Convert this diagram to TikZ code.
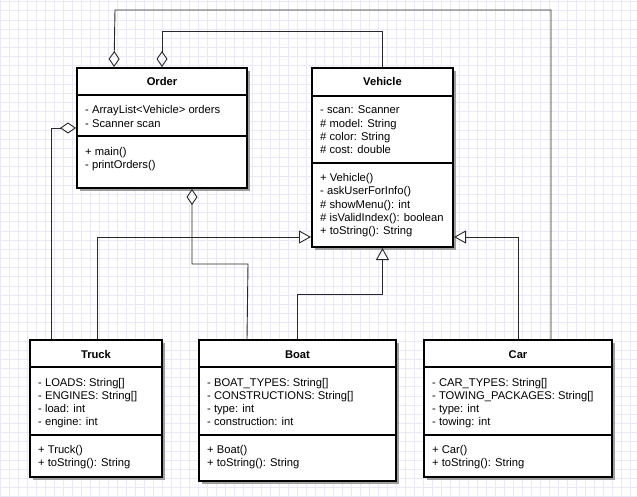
\documentclass[tikz,border=0pt]{standalone}
\usepackage{fontspec}
\setmainfont{Liberation Sans}
\usetikzlibrary{arrows.meta,calc,shadows}
\definecolor{gridc}{RGB}{232,232,249}
\definecolor{linec}{RGB}{40,40,40}
\begin{document}
\begin{tikzpicture}[x=1pt,y=-1pt,
  classbox/.style={draw=black,line width=2pt,fill=white,inner sep=0pt,
    drop shadow={shadow xshift=3pt,shadow yshift=-3pt,fill=black!38,opacity=1}},
  sepline/.style={draw=black,line width=2pt},
  member/.style={anchor=base west,inner sep=0pt,font=\fontsize{11.2}{13.3}\selectfont},
  title/.style={anchor=base,inner sep=0pt,font=\fontsize{11.2}{13.3}\selectfont\bfseries},
  conn/.style={draw=linec,line width=0.9pt},
  agg/.style={conn,-{Diamond[open,length=16pt,width=11pt,line width=0.9pt]}},
  gen/.style={conn,-{Triangle[open,length=12pt,width=13pt,line width=0.9pt,fill=white]}}]
\useasboundingbox (0,0) rectangle (637,496);
\fill[white] (0,0) rectangle (637,496);
% grid
\foreach \i in {0,...,71} \draw[gridc,line width=0.8pt] ({0.3+9*\i},0) -- ({0.3+9*\i},496);
\foreach \i in {0,...,54} \draw[gridc,line width=0.8pt] (0,{1.7+9.17*\i}) -- (637,{1.7+9.17*\i});

% class boxes
\node[classbox,minimum width=170pt,minimum height=120pt] (order) at (162,128) {};
\node[classbox,minimum width=141pt,minimum height=179pt] (vehicle) at (382.5,157.5) {};
\node[classbox,minimum width=132pt,minimum height=137pt] (truck) at (96,408.5) {};
\node[classbox,minimum width=197pt,minimum height=141pt] (boat) at (297.5,410.5) {};
\node[classbox,minimum width=188pt,minimum height=137pt] (car) at (518,408.5) {};

% separators
\draw[sepline] ($(order.north west)+(0,28)$) -- ($(order.north east)+(0,28)$);
\draw[sepline] ($(order.north west)+(0,69)$) -- ($(order.north east)+(0,69)$);
\draw[sepline] ($(vehicle.north west)+(0,29)$) -- ($(vehicle.north east)+(0,29)$);
\draw[sepline] ($(vehicle.north west)+(0,96)$) -- ($(vehicle.north east)+(0,96)$);
\foreach \c in {truck,boat,car}{
  \draw[sepline] ($(\c.north west)+(0,28)$) -- ($(\c.north east)+(0,28)$);
  \draw[sepline] ($(\c.north west)+(0,96)$) -- ($(\c.north east)+(0,96)$);
}

% titles
\node[title] (orderT) at (162,85.3) {Order};
\node[title] (vehicleT) at (382.5,85.3) {Vehicle};
\node[title] (truckT) at (96,358) {Truck};
\node[title] (boatT) at (297.5,358) {Boat};
\node[title] (carT) at (518,358) {Car};

% members
\foreach \t [count=\i] in {{- ArrayList<Vehicle> orders},{- Scanner scan}}
  \node[member] (orderA\i) at (85,{113.7+13.3*(\i-1)}) {\t};
\foreach \t [count=\i] in {{+ main()},{- printOrders()}}
  \node[member] (orderM\i) at (85,{155+13.3*(\i-1)}) {\t};

\foreach \t [count=\i] in {{- scan: Scanner},{\# model: String},{\# color: String},{\# cost: double}}
  \node[member] (vehicleA\i) at (320,{113.7+13.3*(\i-1)}) {\t};
\foreach \t [count=\i] in {{+ Vehicle()},{- askUserForInfo()},{\# showMenu(): int},{\# isValidIndex(): boolean},{+ toString(): String}}
  \node[member] (vehicleM\i) at (320,{181.5+13.3*(\i-1)}) {\t};

\foreach \t [count=\i] in {{- LOADS: String[]},{- ENGINES: String[]},{- load: int},{- engine: int}}
  \node[member] (truckA\i) at (38,{386+13.3*(\i-1)}) {\t};
\foreach \t [count=\i] in {{+ Truck()},{+ toString(): String}}
  \node[member] (truckM\i) at (38,{453+13.3*(\i-1)}) {\t};

\foreach \t [count=\i] in {{- BOAT\_TYPES: String[]},{- CONSTRUCTIONS: String[]},{- type: int},{- construction: int}}
  \node[member] (boatA\i) at (207,{386+13.3*(\i-1)}) {\t};
\foreach \t [count=\i] in {{+ Boat()},{+ toString(): String}}
  \node[member] (boatM\i) at (207,{453+13.3*(\i-1)}) {\t};

\foreach \t [count=\i] in {{- CAR\_TYPES: String[]},{- TOWING\_PACKAGES: String[]},{- type: int},{- towing: int}}
  \node[member] (carA\i) at (432,{386+13.3*(\i-1)}) {\t};
\foreach \t [count=\i] in {{+ Car()},{+ toString(): String}}
  \node[member] (carM\i) at (432,{453+13.3*(\i-1)}) {\t};

% aggregation connectors
\coordinate (a1) at (551,10);
\coordinate (a2) at (115,10);
\draw[agg] ($(car.north)+(33,0)$) -- (a1) -- (a2) -- ($(order.north west)+(38,0)$);
\coordinate (b1) at (382.5,31);
\coordinate (b2) at (162,31);
\draw[agg] (vehicle.north) -- (b1) -- (b2) -- (order.north);
\draw[agg] ($(truck.north west)+(22,0)$) |- (order.west);
\coordinate (c1) at (248,264);
\coordinate (c2) at (192,264);
\draw[agg] ($(boat.north west)+(49,0)$) -- (c1) -- (c2) -- ($(order.south)+(30,0)$);

% generalization connectors
\draw[gen] ($(truck.north)+(1,0)$) |- ($(vehicle.south west)+(0,-11)$);
\draw[gen] (boat.north) |- ($(vehicle.south)+(0,46)$) -- (vehicle.south);
\draw[gen] (car.north) |- ($(vehicle.south east)+(0,-11)$);
\end{tikzpicture}
\end{document}
